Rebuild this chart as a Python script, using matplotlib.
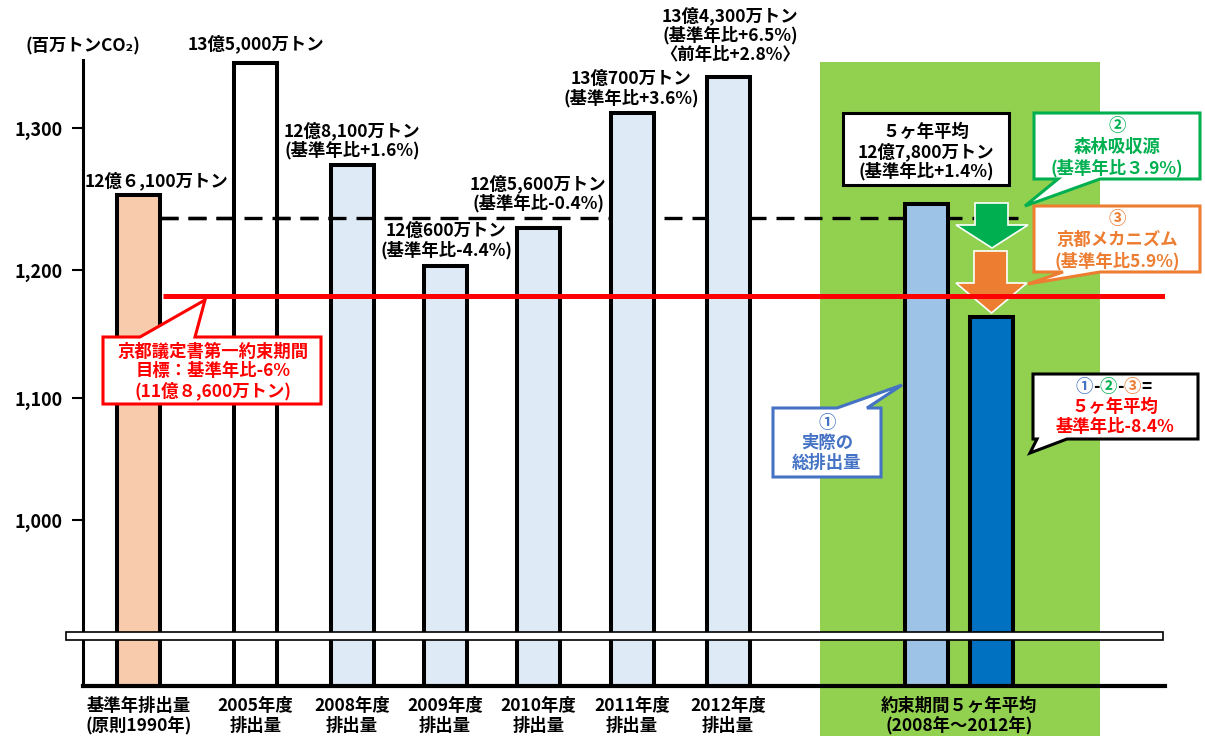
import numpy as np
import matplotlib
matplotlib.use('Agg')
import matplotlib.pyplot as plt
from matplotlib.patches import Rectangle, Polygon

plt.rcParams['font.family'] = ['Noto Sans CJK JP', 'DejaVu Sans']
plt.rcParams['font.weight'] = 'bold'

# ---------------- data ----------------
categories = ['基準年排出量\n(原則1990年)', '2005年度\n排出量', '2008年度\n排出量',
              '2009年度\n排出量', '2010年度\n排出量', '2011年度\n排出量', '2012年度\n排出量']
period_label = '約束期間５ヶ年平均\n(2008年～2012年)'
annual_values = [1252.6, 1346.0, 1273.6, 1202.5, 1229.9, 1310.6, 1335.6]
period_avg_value = 1246.5
period_net_value = 1163.3
base_line_value = 1236.6      # dashed line (base-year reference)
target_line_value = 1179.7    # red line (Kyoto target)
yticks = [1000, 1100, 1200, 1300]
ytick_labels = ['1,000', '1,100', '1,200', '1,300']
bar_labels = [
    ['12億６,100万トン'],
    ['13億5,000万トン'],
    ['12億8,100万トン', '(基準年比+1.6%)'],
    ['12億600万トン', '(基準年比-4.4%)'],
    ['12億5,600万トン', '(基準年比-0.4%)'],
    ['13億700万トン', '(基準年比+3.6%)'],
    ['13億4,300万トン', '(基準年比+6.5%)', '〈前年比+2.8%〉'],
]

# ---------------- layout / style ----------------
W, H = 1205, 736
FS = 12.5
fig = plt.figure(figsize=(W / 100, H / 100), dpi=100)
# pixel-coordinate overlay
fg = fig.add_axes([0, 0, 1, 1], zorder=5)
fg.set_xlim(0, W); fg.set_ylim(H, 0); fg.axis('off'); fg.patch.set_alpha(0)

ax_l, ax_r, ax_t, ax_b = 83, 1165, 60, 686
ax = fig.add_axes([ax_l / W, (H - ax_b) / H, (ax_r - ax_l) / W, (ax_b - ax_t) / H], zorder=1)
ax.patch.set_alpha(0)

# non-uniform value axis as drawn in the original
scale_vals = [800, 1000, 1100, 1200, 1300, 1400]
scale_pos = [-78, 166, 288, 416, 558, 700]
fwd = lambda v: np.interp(v, scale_vals, scale_pos)
inv = lambda p: np.interp(p, scale_pos, scale_vals)
ax.set_yscale('function', functions=(fwd, inv))
ax.set_ylim(inv(0), inv(ax_b - ax_t))
ax.set_xlim(0, ax_r - ax_l)

bar_x = [c - ax_l for c in [138.7, 255.5, 352, 445, 538.3, 632, 728, 926, 991.5]]
bar_w = 43
bar_colors = ['#F8CBAD', '#FFFFFF', '#DEEBF7', '#DEEBF7', '#DEEBF7', '#DEEBF7', '#DEEBF7',
              '#9DC3E6', '#0070C0']
values = annual_values + [period_avg_value, period_net_value]
bottom = 840
ax.bar(bar_x, [v - bottom for v in values], bottom=bottom, width=bar_w,
       color=bar_colors, edgecolor='black', linewidth=2.9, zorder=2)

# green background for the commitment period
ax.add_patch(Rectangle((820, 62), 280, 680, transform=fg.transData, clip_on=False,
                       fc='#92D050', ec='none', zorder=0.5))

# reference lines
dash = (0, (5.4, 3.0))
ax.plot([160 - ax_l, 1025 - ax_l], [base_line_value] * 2, color='black', lw=2.4,
        linestyle=dash, zorder=1, solid_capstyle='butt', dash_capstyle='butt')
# the dashed line is drawn over the 2008 bar in the original
ax.plot([160 - ax_l, 377 - ax_l], [base_line_value] * 2, color='black', lw=2.4,
        linestyle=dash, zorder=2.2, dash_capstyle='butt',
        clip_path=Rectangle((329 - ax_l, 800), 48, 800, transform=ax.transData))
ax.plot([163 - ax_l, 1165 - ax_l], [target_line_value] * 2, color='#FF0000', lw=3.6,
        zorder=3, solid_capstyle='butt')

# arrows (drawn under the red line)
def down_arrow(sx0, sx1, top, hx0, hx1, hy, tip, color):
    cx = (hx0 + hx1) / 2
    verts = [(sx0, top), (sx1, top), (sx1, hy), (hx1, hy), (cx, tip), (hx0, hy), (sx0, hy)]
    ax.add_patch(Polygon(verts, closed=True, transform=fg.transData, clip_on=False,
                         fc=color, ec='white', lw=1.2, zorder=2.6))

down_arrow(975, 1008, 203, 956, 1028, 225, 248, '#00B050')
down_arrow(974, 1007, 251, 956, 1027, 283, 313, '#ED7D31')

# axes styling
for s in ['top', 'right']:
    ax.spines[s].set_visible(False)
ax.spines['left'].set_linewidth(2.2)
ax.spines['bottom'].set_linewidth(3.0)
ax.set_yticks(yticks)
ax.set_yticklabels(ytick_labels)
ax.yaxis.set_minor_locator(matplotlib.ticker.NullLocator())
ax.tick_params(axis='y', length=8, width=1.5, pad=7, labelsize=13)
ax.set_xticks(bar_x[:7] + [(bar_x[7] + bar_x[8]) / 2])
ax.set_xticklabels(categories + [period_label], fontsize=FS, linespacing=1.1)
ax.tick_params(axis='x', length=0, pad=8)

# y label
fg.text(83, 46, '(百万トンCO₂)', ha='center', va='center', fontsize=FS)

def lines(x, y0, step, texts, color='black', size=FS):
    for i, t in enumerate(texts):
        fg.text(x, y0 + i * step, t, ha='center', va='center', color=color,
                fontsize=size, fontweight='bold')

label_pos = [(157, 181), (256, 44), (352, 131), (446, 231), (538, 184), (631, 79), (730, 16)]
for (lx, ly), txt in zip(label_pos, bar_labels):
    lines(lx, ly, 19.5, txt)

# callouts
def callout(x0, y0, x1, y1, side, b0, b1, apex, ec, lw=2.2):
    if side == 'top':
        v = [(x0, y0), (b0, y0), apex, (b1, y0), (x1, y0), (x1, y1), (x0, y1)]
    elif side == 'bottom':
        v = [(x0, y0), (x1, y0), (x1, y1), (b1, y1), apex, (b0, y1), (x0, y1)]
    else:
        v = [(x0, y0), (x1, y0), (x1, y1), (x0, y1)]
    fg.add_patch(Polygon(v, closed=True, fc='white', ec=ec, lw=lw, joinstyle='miter'))

# average box
callout(843, 113, 1009, 185, None, 0, 0, None, 'black')
lines(926, 132, 19.5, ['５ヶ年平均', '12億7,800万トン', '(基準年比+1.4%)'])

# forest sinks
callout(1034, 113, 1200, 179, 'bottom', 1058, 1100, (1025, 206), '#00B050')
lines(1117, 126, 21, ['②', '森林吸収源', '(基準年比３.9%)'], color='#00B050')

# Kyoto mechanisms
callout(1034, 206, 1200, 272, 'bottom', 1063, 1100, (1028, 284), '#ED7D31')
lines(1117, 219, 21, ['③', '京都メカニズム', '(基準年比5.9%)'], color='#ED7D31')

# target
callout(103, 337, 321, 404, 'top', 140, 195, (205, 300), '#FF0000')
lines(213, 352, 19.5, ['京都議定書第一約束期間', '目標：基準年比-6%', '(11億８,600万トン)'], color='#FF0000')

# actual total
callout(773, 408, 881, 477, 'top', 837, 867, (902, 385), '#4472C4')
lines(827, 423, 20, ['①', '実際の', '総排出量'], color='#4472C4')

# result
callout(1033, 374, 1198, 439, 'bottom', 1037, 1067, (1030, 453), 'black')
pieces = [('①', '#4472C4'), ('-', 'black'), ('②', '#00B050'), ('-', 'black'),
          ('③', '#ED7D31'), ('=', 'black')]
prev = fg.text(1076, 387, pieces[0][0], color=pieces[0][1], ha='left', va='center',
               fontsize=FS, fontweight='bold')
for t, c in pieces[1:]:
    prev = fg.annotate(t, xy=(1, 0.5), xycoords=prev, ha='left', va='center', color=c,
                       fontsize=FS, fontweight='bold')
lines(1115, 407, 20, ['５ヶ年平均', '基準年比-8.4%'], color='#FF0000')

# axis break band
fg.add_patch(Rectangle((66, 632), 1097, 8, fc='white', ec='black', lw=1.2))

fig.savefig('out.png', dpi=100)
